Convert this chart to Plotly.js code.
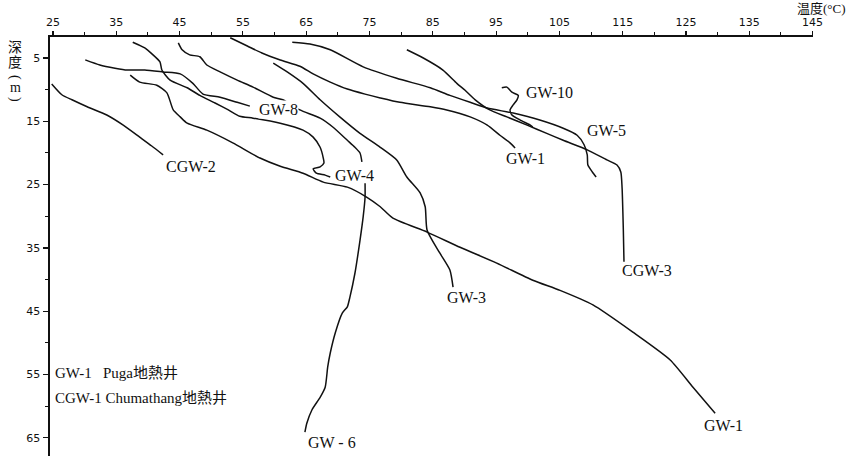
<!DOCTYPE html>
<html>
<head>
<meta charset="utf-8">
<script src="https://cdn.plot.ly/plotly-3.0.1.min.js"></script>
<style>html,body{margin:0;padding:0;background:#fff;}#chart{width:849px;height:456px;}</style>
</head>
<body>
<div id="chart"></div>
<script>
// Temperature (°C) / depth (m) profiles
const cgw2_T = [24.8, 26.4, 28.0, 30.4, 33.5, 36.1, 38.7, 40.6, 42.4];
const cgw2_D = [9.1, 10.8, 11.6, 12.7, 14.0, 15.6, 17.5, 18.9, 20.3];

const gw8_T = [30.1, 32.4, 34.8, 36.7, 39.5, 42.4, 45.1, 47.1, 48.7, 51.4, 54.1, 56.1];
const gw8_D = [5.3, 6.1, 6.6, 6.9, 6.9, 7.2, 7.5, 9.0, 10.7, 11.2, 12.0, 12.6];

const gw4_T = [37.6, 39.5, 40.8, 41.9, 42.2, 43.5, 46.2, 48.2, 50.6, 52.7, 54.5, 56.6, 60.9, 64.5, 66.1, 67.2, 67.7, 67.8, 67.2, 66.1, 66.6, 68.0, 68.8];
const gw4_D = [2.5, 3.4, 4.5, 5.6, 6.9, 8.5, 9.7, 10.9, 12.1, 13.2, 14.2, 14.5, 15.3, 16.4, 17.5, 19.1, 20.8, 21.6, 22.2, 22.5, 23.2, 23.5, 23.8];

const gw1deep_T = [37.2, 38.7, 41.4, 43.0, 44.0, 45.1, 46.2, 49.3, 53.4, 57.7, 60.9, 64.5, 67.7, 71.5, 74.6, 76.7, 78.7, 84.1, 89.3, 95.1, 100.8, 105.1, 110.3, 116.6, 122.5, 126.1, 129.6];
const gw1deep_D = [7.7, 8.8, 9.3, 10.5, 13.2, 14.3, 15.3, 16.4, 18.4, 20.8, 22.1, 23.2, 24.6, 25.4, 27.0, 28.5, 30.3, 32.5, 34.9, 37.4, 40.1, 41.7, 44.0, 48.3, 52.7, 57.0, 61.1];

const gwS_T = [44.8, 45.4, 46.6, 48.2, 49.3, 51.4, 54.1, 56.6, 59.8, 61.3, 64.0, 67.2, 69.2, 71.5, 72.7, 73.5, 73.8];
const gwS_D = [2.6, 3.7, 4.5, 4.8, 6.1, 7.2, 8.5, 9.6, 11.2, 11.6, 13.2, 14.5, 15.9, 18.0, 19.1, 20.0, 21.4];

const gw6_T = [74.3, 74.3, 74.0, 73.5, 72.7, 71.9, 71.5, 70.7, 69.6, 68.8, 68.4, 68.0, 67.2, 65.9, 65.1, 64.8];
const gw6_D = [24.8, 27.0, 30.1, 33.8, 39.0, 42.8, 44.3, 45.3, 48.4, 51.6, 53.8, 57.0, 58.6, 60.6, 62.7, 64.1];

const gw1_T = [53.0, 55.7, 58.0, 60.9, 64.0, 66.1, 68.8, 71.5, 74.3, 76.7, 79.8, 84.6, 87.2, 90.9, 93.6, 95.6, 97.2, 98.0];
const gw1_D = [1.8, 3.1, 4.2, 5.3, 6.3, 7.5, 8.8, 9.9, 10.7, 11.3, 12.0, 12.7, 13.2, 14.3, 15.6, 17.2, 18.4, 19.2];

const cgw3_T = [80.9, 83.5, 86.6, 88.8, 90.1, 91.7, 94.0, 96.7, 99.9, 103.0, 105.6, 109.4, 112.5, 114.1, 114.7, 114.9, 115.1, 115.2];
const cgw3_D = [3.7, 5.0, 6.9, 9.0, 10.1, 11.6, 13.2, 14.3, 15.6, 16.9, 18.0, 19.5, 21.1, 21.9, 23.0, 25.5, 32.2, 37.2];

const gw5_T = [62.8, 65.6, 68.8, 74.0, 79.3, 84.6, 87.7, 90.9, 93.6, 97.7, 101.9, 105.6, 107.8, 108.9, 109.4, 109.5, 110.2, 110.8];
const gw5_D = [2.5, 2.8, 3.7, 6.4, 8.2, 9.7, 10.9, 12.0, 12.9, 13.7, 14.8, 16.1, 17.2, 18.7, 20.3, 21.9, 23.0, 23.8];

const gw3_T = [59.8, 62.0, 64.5, 67.2, 70.3, 73.5, 76.7, 79.3, 80.9, 83.0, 83.8, 84.1, 86.1, 87.7, 88.2];
const gw3_D = [5.8, 7.2, 9.0, 11.6, 14.3, 16.9, 19.1, 21.1, 23.8, 26.3, 28.5, 32.2, 35.8, 38.5, 41.2];

const gw10_T = [95.9, 96.7, 97.5, 98.5, 98.3, 97.7, 97.2, 97.5, 98.8, 100.4, 100.8];
const gw10_D = [9.7, 9.6, 10.4, 10.9, 11.6, 12.4, 13.2, 14.0, 14.8, 15.6, 15.9];

// Curve labels
const labelText = ['CGW-2', 'GW-8', 'GW-4', 'GW - 6', 'GW-3', 'GW-1', 'GW-1', 'GW-10', 'GW-5', 'CGW-3'];
const labelT = [46.8, 60.6, 72.6, 69.1, 90.4, 131.0, 99.6, 103.4, 112.5, 118.8];
const labelD = [22.1, 13.1, 23.5, 65.8, 42.9, 63.0, 20.8, 10.5, 16.5, 38.5];

const noteText = ['GW-1\u00A0\u00A0\u00A0Puga地熱井', 'CGW-1 Chumathang地熱井'];

const series = [
  [cgw2_T, cgw2_D, 'CGW-2'], [gw8_T, gw8_D, 'GW-8'], [gw4_T, gw4_D, 'GW-4'],
  [gw1deep_T, gw1deep_D, 'GW-1'], [gwS_T, gwS_D, 'GW-4b'], [gw6_T, gw6_D, 'GW-6'],
  [gw1_T, gw1_D, 'GW-1 upper'], [cgw3_T, cgw3_D, 'CGW-3'], [gw5_T, gw5_D, 'GW-5'],
  [gw3_T, gw3_D, 'GW-3'], [gw10_T, gw10_D, 'GW-10']
];

const traces = series.map(s => ({
  x: s[0], y: s[1], name: s[2], type: 'scatter', mode: 'lines',
  line: {color: '#111', width: 1.5, shape: 'spline', smoothing: 0.6},
  hoverinfo: 'x+y+name'
}));

// plot area geometry in pixels
const L = 50, T = 37, W = 763, H = 456 - 37;
const px = v => (v - L) / W;
const py = v => 1 - (v - T) / H;

const serif = 'Liberation Serif, Times New Roman, Noto Sans CJK SC, serif';
const annotations = [];
labelText.forEach((t, i) => annotations.push({
  x: labelT[i], y: labelD[i], xref: 'x', yref: 'y', text: t, showarrow: false,
  font: {family: serif, size: 16, color: '#111'}, xanchor: 'center', yanchor: 'middle',
  bgcolor: t === 'GW-8' ? '#fff' : 'rgba(0,0,0,0)', borderpad: 0
}));
noteText.forEach((t, i) => annotations.push({
  x: 25, y: [54.8, 58.7][i], xref: 'x', yref: 'y', text: t, showarrow: false,
  font: {family: serif, size: 15, color: '#111'}, xanchor: 'left', yanchor: 'middle'
}));
annotations.push({
  x: px(848), y: py(9), xref: 'paper', yref: 'paper', text: '温度(°C)', showarrow: false,
  font: {family: serif, size: 13, color: '#111'}, xanchor: 'right', yanchor: 'middle'
});
const ychars = ['深', '度', '(', 'm', ')'];
const ycharY = [47, 63, 77, 88, 99];
const ycharA = [0, 0, 90, 0, 90];
ychars.forEach((c, i) => annotations.push({
  x: px(15), y: py(ycharY[i]), xref: 'paper', yref: 'paper', text: c, showarrow: false,
  textangle: ycharA[i],
  font: {family: serif, size: 14, color: '#111'}, xanchor: 'center', yanchor: 'middle'
}));

const tickFont = {family: 'DejaVu Sans, Liberation Sans, sans-serif', size: 11, color: '#111'};
const layout = {
  width: 849, height: 456,
  margin: {l: L, r: 849 - L - W, t: T, b: 0},
  paper_bgcolor: '#fff', plot_bgcolor: '#fff',
  showlegend: false,
  xaxis: {
    side: 'top', range: [24.53, 145.06], tick0: 25, dtick: 10,
    ticks: 'outside', ticklen: 4, tickwidth: 1.2, tickcolor: '#111',
    showline: true, linewidth: 2.5, linecolor: '#111', mirror: false,
    showgrid: false, zeroline: false, tickfont: tickFont,
    minor: {dtick: 5, ticks: 'outside', ticklen: 3, tickwidth: 1, tickcolor: '#111', showgrid: false}
  },
  yaxis: {
    range: [67.87, 1.68], tick0: 5, dtick: 10,
    ticks: 'outside', ticklen: 5, tickwidth: 1.2, tickcolor: '#111',
    showline: true, linewidth: 2.5, linecolor: '#111', mirror: false,
    showgrid: false, zeroline: false, tickfont: tickFont,
    minor: {dtick: 5, ticks: 'outside', ticklen: 3, tickwidth: 1, tickcolor: '#111', showgrid: false}
  },
  annotations: annotations
};

Plotly.newPlot('chart', traces, layout, {staticPlot: true, displayModeBar: false});
</script>
</body>
</html>
